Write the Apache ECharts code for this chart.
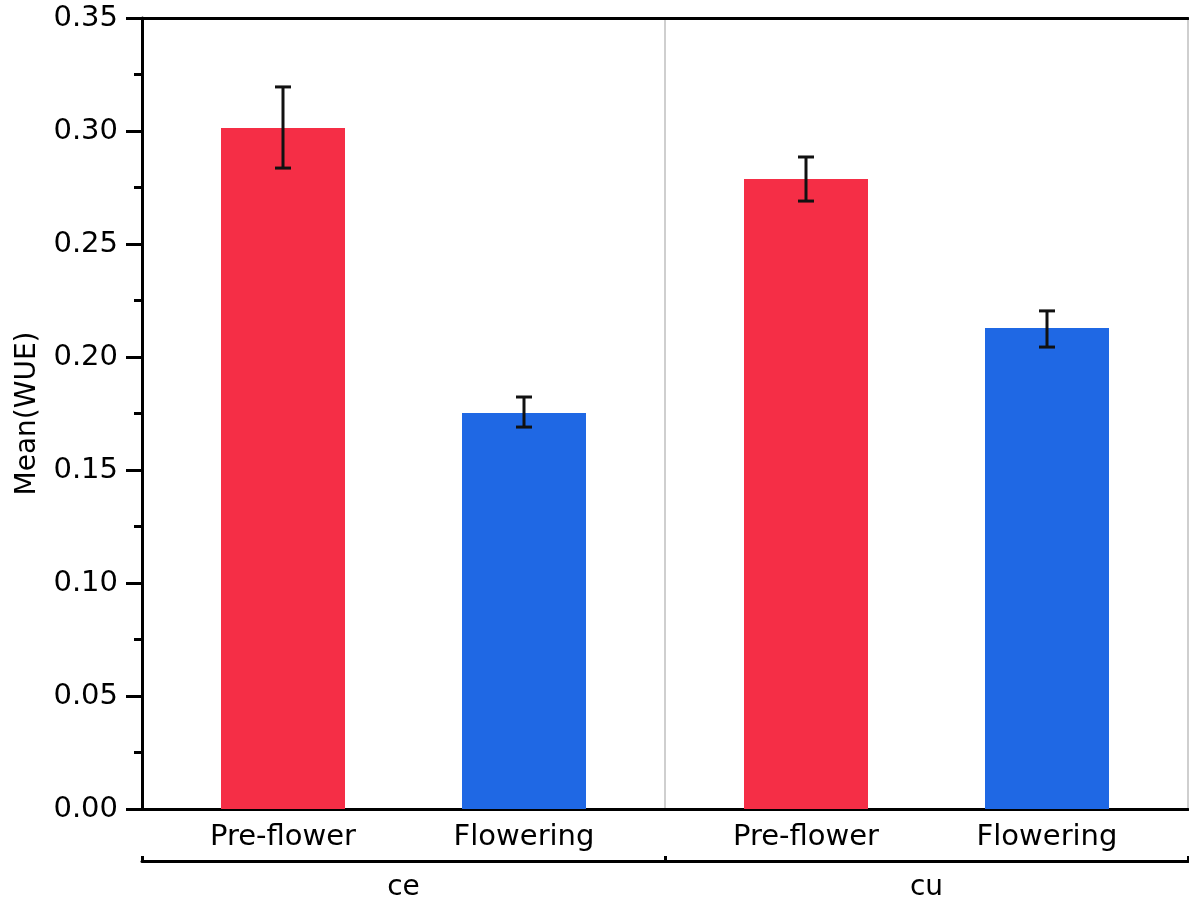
<!DOCTYPE html>
<html><head><meta charset="utf-8">
<script src="https://cdn.jsdelivr.net/npm/echarts@6/dist/echarts.min.js"></script>
<style>html,body{margin:0;padding:0;background:#fff}#c{width:1189px;height:904px}</style>
</head><body><div id="c"></div>
<script>
const groups = ['ce', 'cu'];
const phases = ['Pre-flower', 'Flowering'];
const preFlowerMean = [0.3013, 0.2788];
const preFlowerLow = [0.2836, 0.2690];
const preFlowerHigh = [0.3195, 0.2885];
const floweringMean = [0.1752, 0.2128];
const floweringLow = [0.1690, 0.2044];
const floweringHigh = [0.1823, 0.2204];
const yTicks = [0, 0.05, 0.10, 0.15, 0.20, 0.25, 0.30, 0.35];

const FONT = 'DejaVu Sans';
const RED = '#F52E46';
const BLUE = '#1F68E4';
const BAR_W = 124;
const BAR_GAP = 117 / 124;

const errData = [];
groups.forEach((g, i) => {
  errData.push([i, preFlowerLow[i], preFlowerHigh[i], 0]);
  errData.push([i, floweringLow[i], floweringHigh[i], 1]);
});

const chart = echarts.init(document.getElementById('c'), null, {renderer: 'canvas'});
chart.setOption({
  animation: false,
  backgroundColor: '#fff',
  grid: {left: 142, top: 18, width: 1046, height: 791, containLabel: false, outerBoundsMode: 'none'},
  xAxis: [
    {
      type: 'category', data: groups, position: 'bottom',
      axisLine: {show: true, lineStyle: {color: '#000', width: 3}},
      axisTick: {show: false}, axisLabel: {show: false},
      splitLine: {show: true, lineStyle: {color: '#cfcfcf', width: 2}}
    },
    {
      type: 'category', data: groups, position: 'bottom', offset: 52,
      axisLine: {show: true, lineStyle: {color: '#000', width: 3}},
      axisTick: {show: true, inside: true, length: 5, lineStyle: {color: '#000', width: 3}},
      axisLabel: {show: true, color: '#000', fontFamily: FONT, fontSize: 28, margin: 13},
      splitLine: {show: false}
    },
    {
      type: 'category', data: groups, position: 'top',
      axisLine: {show: true, lineStyle: {color: '#000', width: 3}},
      axisTick: {show: false}, axisLabel: {show: false}, splitLine: {show: false}
    }
  ],
  yAxis: {
    type: 'value', min: 0, max: 0.35, interval: 0.05,
    name: 'Mean(WUE)', nameLocation: 'middle', nameGap: 100,
    nameTextStyle: {color: '#000', fontFamily: FONT, fontSize: 28},
    axisLine: {show: true, lineStyle: {color: '#000', width: 3}},
    axisTick: {show: true, length: 16, lineStyle: {color: '#000', width: 3}},
    minorTick: {show: true, splitNumber: 2, length: 8, lineStyle: {color: '#000', width: 3}},
    axisLabel: {color: '#000', fontFamily: FONT, fontSize: 29, margin: 24,
      formatter: v => yTicks.some(t => Math.abs(t - v) < 1e-9) ? v.toFixed(2) : ''},
    splitLine: {show: false}
  },
  series: [
    {
      name: phases[0], type: 'bar', xAxisIndex: 0, data: preFlowerMean,
      barWidth: BAR_W, barGap: (BAR_GAP * 100) + '%',
      itemStyle: {color: RED},
      label: {show: true, position: 'bottom', distance: 14, formatter: phases[0],
        color: '#000', fontFamily: FONT, fontSize: 29}
    },
    {
      name: phases[1], type: 'bar', xAxisIndex: 0, data: floweringMean,
      barWidth: BAR_W, barGap: (BAR_GAP * 100) + '%',
      itemStyle: {color: BLUE},
      label: {show: true, position: 'bottom', distance: 14, formatter: phases[1],
        color: '#000', fontFamily: FONT, fontSize: 29}
    },
    {
      type: 'custom', xAxisIndex: 0, data: errData, z: 10,
      renderItem: function (params, api) {
        const cat = api.value(0);
        const which = api.value(3);
        const off = (BAR_W + BAR_W * BAR_GAP) / 2 * (which === 0 ? -1 : 1);
        const lo = api.coord([cat, api.value(1)]);
        const hi = api.coord([cat, api.value(2)]);
        const x = lo[0] + off;
        const cap = 8;
        const st = {stroke: '#111', lineWidth: 3};
        return {type: 'group', children: [
          {type: 'line', shape: {x1: x, y1: lo[1], x2: x, y2: hi[1]}, style: st},
          {type: 'line', shape: {x1: x - cap, y1: lo[1], x2: x + cap, y2: lo[1]}, style: st},
          {type: 'line', shape: {x1: x - cap, y1: hi[1], x2: x + cap, y2: hi[1]}, style: st}
        ]};
      }
    }
  ]
});
</script></body></html>
